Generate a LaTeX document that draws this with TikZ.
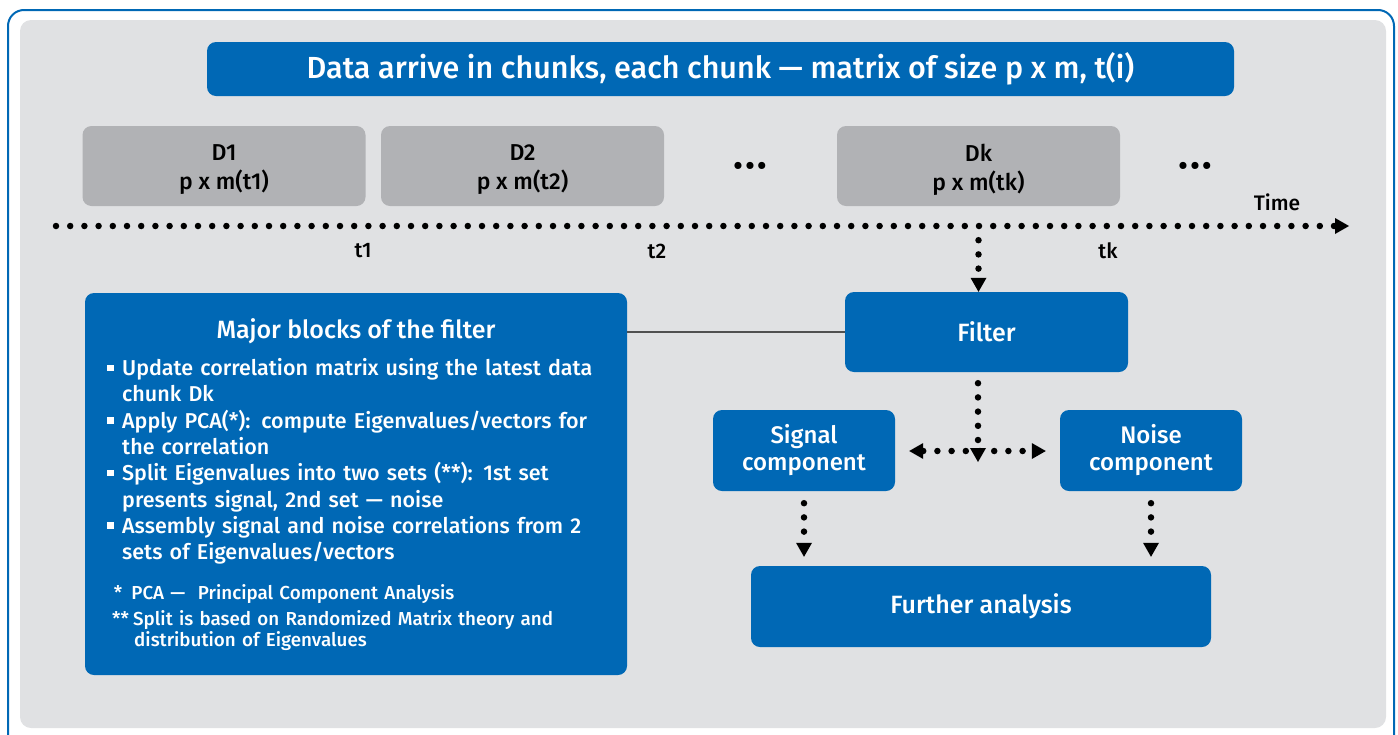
\documentclass[tikz,border=0pt]{standalone}
\usepackage{fontspec}
\setmainfont{Fira Sans}[UprightFont = * Medium]
\usepackage{tikz}
\usetikzlibrary{arrows.meta}
\definecolor{intelblue}{HTML}{0068B5}
\definecolor{panelgrey}{HTML}{E0E1E3}
\definecolor{chunkgrey}{HTML}{B1B2B5}
\definecolor{linkgrey}{HTML}{505050}
\providecommand{\blkitem}[1]{\par\hangindent=15pt\hangafter=1\noindent\makebox[15pt][l]{\rule[4.5pt]{6.5pt}{6.5pt}}#1}
\tikzset{
  bluebox/.style={fill=intelblue, rounded corners=9pt, text=white, align=center, inner sep=0pt},
  chunkbox/.style={fill=chunkgrey, rounded corners=9pt, inner sep=0pt,
    minimum width=283pt, minimum height=80pt},
  chunktext/.style={text=black, align=center, inner sep=0pt, yshift=-3.5pt, font=\fontsize{23}{29}\selectfont},
  dotline/.style={line width=6.5pt, line cap=round, dash pattern=on 0pt off 14.2pt},
  dotarrow/.style={dotline, -{Triangle[width=16pt,length=14pt,line width=0pt]}},
  dotboth/.style={dotline, {Triangle[width=16pt,length=14pt,line width=0pt]}-{Triangle[width=16pt,length=14pt,line width=0pt]}},
  link/.style={draw=linkgrey, line width=1.6pt},
  ticklabel/.style={font=\fontsize{21}{24}\selectfont, text=black}
}
\begin{document}
\begin{tikzpicture}[x=1pt,y=-1pt]
\useasboundingbox (0,0) rectangle (1398,734);
% Frame and panel
\begin{scope}
\clip (0,0) rectangle (1398,734);
\draw[intelblue, line width=2pt, rounded corners=16pt] (8,10) rectangle (1394,760);
\end{scope}
\fill[panelgrey, rounded corners=11pt] (20,20) rectangle (1386,728);
% Title bar
\node[bluebox, minimum width=1027pt, minimum height=54pt, font=\fontsize{30.5}{34}\selectfont] (title) at (720.5,69)
  {Data arrive in chunks, each chunk --- matrix of size p x m, t(i)};
% Data chunks
\node[chunkbox, label={[chunktext]center:D1\\p x m(t1)}] (D1) at (224,166) {};
\node[chunkbox, label={[chunktext]center:D2\\p x m(t2)}] (D2) at (522.5,166) {};
\node[chunkbox, label={[chunktext]center:Dk\\p x m(tk)}] (Dk) at (978.5,166) {};
\node[font=\fontsize{28}{30}\selectfont] (more1) at (750,169) {\textbullet\hspace{2.5pt}\textbullet\hspace{2.5pt}\textbullet};
\node[font=\fontsize{28}{30}\selectfont] (more2) at (1195,169) {\textbullet\hspace{2.5pt}\textbullet\hspace{2.5pt}\textbullet};
% Time axis
\coordinate (tl-start) at (56,226);
\coordinate (tl-end) at (1349,226);
\draw[dotarrow] (tl-start) -- (tl-end);
\node[ticklabel] (time) at (1277,202) {Time};
\node[ticklabel] (t1) at (363,251) {t1};
\node[ticklabel] (t2) at (657,251) {t2};
\node[ticklabel] (tk) at (1108,251) {tk};
% Filter and its parts
\node[bluebox, minimum width=283pt, minimum height=80pt, font=\fontsize{25}{29}\selectfont] (filter) at (986.5,332) {Filter};
\node[bluebox, minimum width=182pt, minimum height=81pt, font=\fontsize{24}{27}\selectfont] (signal) at (804,450.5) {Signal\\component};
\node[bluebox, minimum width=182pt, minimum height=81pt, font=\fontsize{24}{27}\selectfont] (noise) at (1151,450.5) {Noise\\component};
\node[bluebox, minimum width=460pt, minimum height=81pt, font=\fontsize{25}{29}\selectfont] (further) at (981,606.5) {Further analysis};
\coordinate (split) at (978,451);
% Major blocks
\node[bluebox, minimum width=542pt, minimum height=382pt] (major) at (356,484) {};
\node[text=white, font=\fontsize{25}{29}\selectfont] (major-title) at (356,331) {Major blocks of the filter};
\node[text=white, anchor=north west, text width=493pt, inner sep=0pt, font=\fontsize{21.5}{26.3}\selectfont]
  (major-list) at (107,349) {\raggedright
  \blkitem{Update correlation matrix using the latest data chunk Dk}
  \blkitem{Apply PCA(*): compute Eigenvalues/vectors for the correlation}
  \blkitem{Split Eigenvalues into two sets (**): 1st set presents signal, 2nd set --- noise}
  \blkitem{Assembly signal and noise correlations from 2 sets of Eigenvalues/vectors}\par};
\node[text=white, anchor=north west, text width=480pt, inner sep=0pt, font=\fontsize{18.8}{21}\selectfont]
  (major-note) at (112,584) {\raggedright
  \hangindent=22pt\hangafter=1\noindent\makebox[10pt][r]{*}\hspace{3pt} PCA ---\ \ Principal Component Analysis\par
  \vspace{5pt}
  \hangindent=22pt\hangafter=1\noindent\makebox[18pt][l]{**}\hspace{3pt}Split is based on Randomized Matrix theory and distribution of Eigenvalues\par};
% Connectors
\draw[link] (major.east |- filter.west) -- (filter.west);
\draw[dotarrow, shorten <=34pt] (Dk.south) -- (Dk.south |- filter.north);
\draw[dotarrow, shorten <=11pt] (filter.south -| split) -- ([yshift=-11pt]split);
\draw[dotboth, shorten <=14pt, shorten >=14pt] (signal.east |- split) -- (noise.west |- split);
\draw[dotarrow, shorten <=12pt, shorten >=9pt] (signal.south) -- (signal.south |- further.north);
\draw[dotarrow, shorten <=12pt, shorten >=9pt] (noise.south) -- (noise.south |- further.north);
\end{tikzpicture}
\end{document}
